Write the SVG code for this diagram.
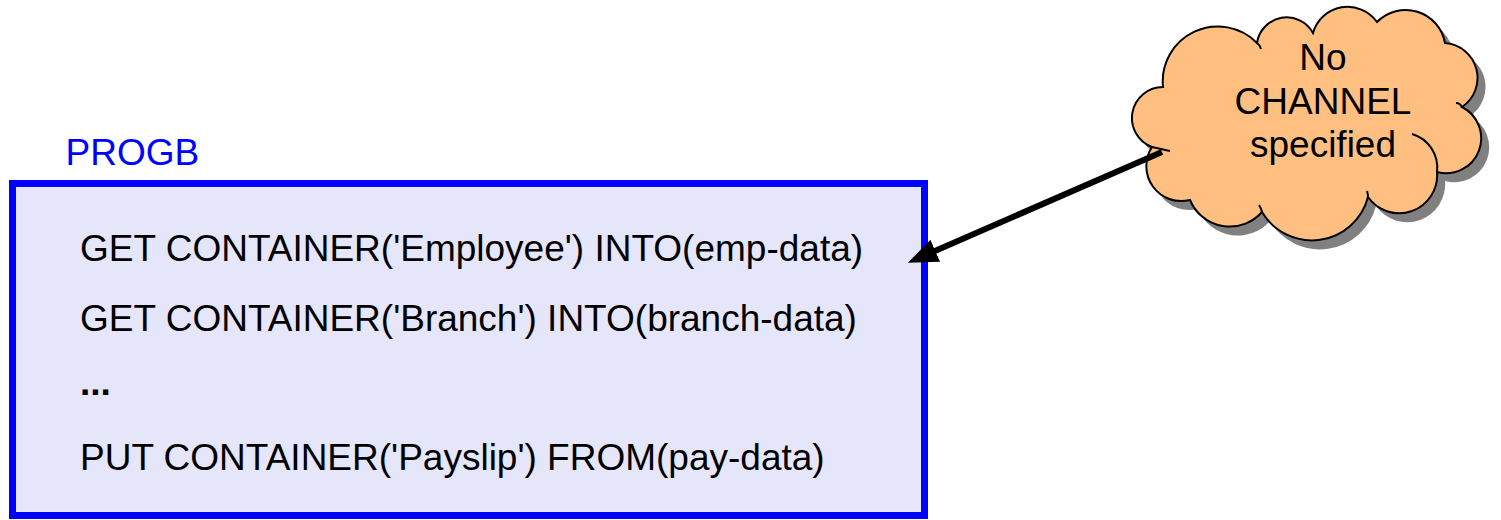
<svg xmlns="http://www.w3.org/2000/svg" width="1501" height="520" viewBox="0 0 1501 520">
<style>
  .t { font-family: "Liberation Sans", Arial, sans-serif; font-size: 37px; fill: #000; }
  .title { font-family: "Liberation Sans", Arial, sans-serif; font-size: 37px; fill: #0000FF; }
  .cloud { fill: #FFBF80; stroke: #000; stroke-width: 2; }
  .shadow { fill: #808080; }
  .inner { fill: none; stroke: #000; stroke-width: 2; }
  .conn { fill: none; stroke: #000; stroke-width: 6; }
</style>
<defs>
  <path id="cloudPath" d="M1163,87 A55,55 0 0 1 1257,43 A30,30 0 0 1 1313,33 A36,36 0 0 1 1377,22 A40,40 0 0 1 1445,43 A35,35 0 0 1 1462,107 A35,35 0 0 1 1437,172 A38,38 0 0 1 1368,197 A58,58 0 0 1 1262,212 A43,43 0 0 1 1190,200 A35,35 0 0 1 1152,147 A31,31 0 0 1 1163,87 Z"/>
  <marker id="arrow" markerUnits="userSpaceOnUse" markerWidth="32" markerHeight="26" refX="8" refY="12" orient="auto" viewBox="0 0 32 26">
    <path d="M0,0 L30,12 L0,24 Z" fill="#000"/>
  </marker>
</defs>

<g id="progb">
  <text class="title" x="65.5" y="165">PROGB</text>
  <rect x="12.5" y="183.5" width="912" height="332" fill="#E6E6FA" stroke="#0000FF" stroke-width="7"/>
  <text class="t" x="80" y="261">GET CONTAINER('Employee') INTO(emp-data)</text>
  <text class="t" x="80" y="331">GET CONTAINER('Branch') INTO(branch-data)</text>
  <text class="t" x="80" y="395" font-weight="bold">...</text>
  <text class="t" x="80" y="470">PUT CONTAINER('Payslip') FROM(pay-data)</text>
</g>

<g id="cloud">
  <use href="#cloudPath" class="shadow" transform="translate(8,9)"/>
  <use href="#cloudPath" class="cloud"/>
  <path class="inner" d="M1412,134 A35,35 0 0 1 1437,172"/>
  <path class="inner" d="M1152,147 L1170,151"/>
  <path class="inner" d="M1257,43 q3,2 4,6"/>
  <path class="inner" d="M1462,107 q-2,-4 -6,-4"/>
  <path class="inner" d="M1368,197 q0,-3 -1,-6"/>
  <path class="inner" d="M1262,212 q-1,-4 -3,-7"/>
  <text class="t" x="1323" y="70" text-anchor="middle">No</text>
  <text class="t" x="1323" y="113.5" text-anchor="middle">CHANNEL</text>
  <text class="t" x="1323" y="157" text-anchor="middle">specified</text>
</g>

<g id="connectors">
  <path class="conn" d="M1162,152 L928,254" marker-end="url(#arrow)"/>
</g>
</svg>
